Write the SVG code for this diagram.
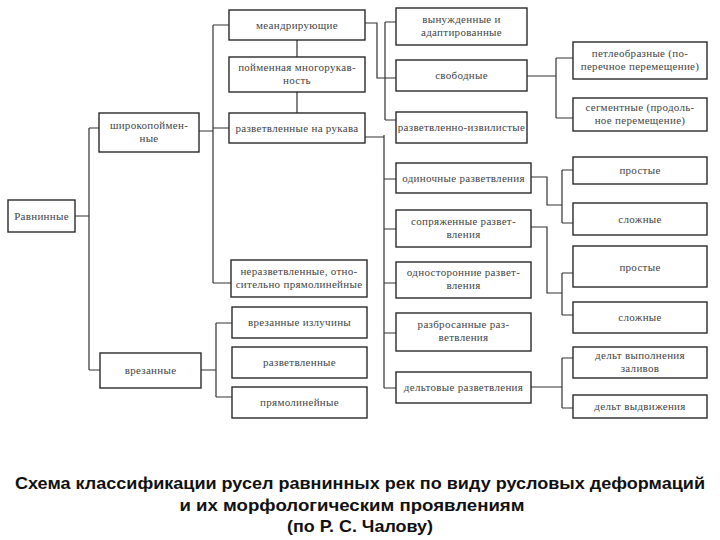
<svg xmlns="http://www.w3.org/2000/svg" width="720" height="540" viewBox="0 0 720 540">
<style>
.b{fill:#fff;stroke:#2a2a2a;stroke-width:1.4}
.t{font-family:'Liberation Serif','DejaVu Serif','Times New Roman',serif;font-size:11px;fill:#444;text-anchor:middle;letter-spacing:0.3px}
.c{fill:none;stroke:#333;stroke-width:1.2}
.h{font-family:'Liberation Sans',Arial,sans-serif;font-size:17px;font-weight:bold;fill:#111;text-anchor:middle}
</style>
<rect width="720" height="540" fill="#fff"/>
<g id="connectors" class="c">
<path d="M75,216H89M89,128V370M89,128H99M89,370H100"/>
<path d="M199,131H213M213,25V283M213,25H229M213,128H229M213,283H231"/>
<path d="M297,40V57M297,92V113"/>
<path d="M201,370H216M216,323V397M216,323H232M216,397H232"/>
<path d="M365,23H377V78H385M385,22V120M385,22H396M385,78H396M385,120H396"/>
<path d="M365,137H384M384,135V388M384,179H396M384,229H396M384,283H396M384,333H396M384,388H396"/>
<path d="M527,76H556M556,58V118M556,58H573M556,118H573"/>
<path d="M531,177H547V205H562M562,170V223M562,170H573M562,223H573"/>
<path d="M531,227H547V293H562M562,273V315M562,273H573M562,315H573"/>
<path d="M531,387H562M562,358V408M562,358H573M562,408H573"/>
</g>
<g font-family="'Liberation Serif','DejaVu Serif',serif">
<g id="n-ravninnye"><rect class="b" x="8" y="200" width="67" height="32"/><text class="t" x="41.5" y="220">Равнинные</text></g>
<g id="n-shirokopoim"><rect class="b" x="99" y="113" width="100" height="39"/><text class="t" x="149" y="129">широкопоймен-</text><text class="t" x="149" y="142">ные</text></g>
<g id="n-vrezannye"><rect class="b" x="100" y="353" width="101" height="35"/><text class="t" x="150.5" y="374">врезанные</text></g>
<g id="n-meandr"><rect class="b" x="229" y="10" width="136" height="30"/><text class="t" x="297" y="29">меандрирующие</text></g>
<g id="n-poimennaya"><rect class="b" x="229" y="57" width="136" height="35"/><text class="t" x="297" y="71">пойменная многорукав-</text><text class="t" x="297" y="84">ность</text></g>
<g id="n-razv-rukava"><rect class="b" x="229" y="113" width="136" height="30"/><text class="t" x="297" y="132">разветвленные на рукава</text></g>
<g id="n-nerazv"><rect class="b" x="231" y="260" width="136" height="37"/><text class="t" x="299" y="275">неразветвленные, отно-</text><text class="t" x="299" y="288">сительно прямолинейные</text></g>
<g id="n-vrez-izluchiny"><rect class="b" x="232" y="307" width="135" height="31"/><text class="t" x="299.5" y="326">врезанные излучины</text></g>
<g id="n-razvetvlennye"><rect class="b" x="232" y="347" width="135" height="31"/><text class="t" x="299.5" y="366">разветвленные</text></g>
<g id="n-pryamolin"><rect class="b" x="232" y="387" width="135" height="31"/><text class="t" x="299.5" y="406">прямолинейные</text></g>
<g id="n-vynuzhd"><rect class="b" x="396" y="8" width="131" height="37"/><text class="t" x="461.5" y="23">вынужденные и</text><text class="t" x="461.5" y="36">адаптированные</text></g>
<g id="n-svobodnye"><rect class="b" x="396" y="60" width="131" height="31"/><text class="t" x="461.5" y="79">свободные</text></g>
<g id="n-razv-izv"><rect class="b" x="396" y="112" width="131" height="31"/><text class="t" x="461.5" y="131">разветвленно-извилистые</text></g>
<g id="n-odinochnye"><rect class="b" x="396" y="163" width="135" height="30"/><text class="t" x="463.5" y="182">одиночные разветвления</text></g>
<g id="n-sopryazh"><rect class="b" x="396" y="210" width="135" height="37"/><text class="t" x="463.5" y="225">сопряженные развет-</text><text class="t" x="463.5" y="238">вления</text></g>
<g id="n-odnostor"><rect class="b" x="396" y="262" width="135" height="36"/><text class="t" x="463.5" y="276">односторонние развет-</text><text class="t" x="463.5" y="289">вления</text></g>
<g id="n-razbros"><rect class="b" x="396" y="313" width="135" height="38"/><text class="t" x="463.5" y="328">разбросанные раз-</text><text class="t" x="463.5" y="341">ветвления</text></g>
<g id="n-deltovye"><rect class="b" x="396" y="372" width="135" height="31"/><text class="t" x="463.5" y="391">дельтовые разветвления</text></g>
<g id="n-petleobr"><rect class="b" x="573" y="42" width="134" height="37"/><text class="t" x="640" y="57">петлеобразные (по-</text><text class="t" x="640" y="70">перечное перемещение)</text></g>
<g id="n-segment"><rect class="b" x="573" y="98" width="134" height="33"/><text class="t" x="640" y="111">сегментные (продоль-</text><text class="t" x="640" y="124">ное перемещение)</text></g>
<g id="n-prostye1"><rect class="b" x="573" y="157" width="134" height="27"/><text class="t" x="640" y="174">простые</text></g>
<g id="n-slozhnye1"><rect class="b" x="573" y="203" width="134" height="32"/><text class="t" x="640" y="223">сложные</text></g>
<g id="n-prostye2"><rect class="b" x="573" y="246" width="134" height="41"/><text class="t" x="640" y="271">простые</text></g>
<g id="n-slozhnye2"><rect class="b" x="573" y="302" width="134" height="31"/><text class="t" x="640" y="321">сложные</text></g>
<g id="n-delt-vypoln"><rect class="b" x="573" y="347" width="134" height="31"/><text class="t" x="640" y="359">дельт выполнения</text><text class="t" x="640" y="372">заливов</text></g>
<g id="n-delt-vydv"><rect class="b" x="573" y="395" width="134" height="23"/><text class="t" x="640" y="410">дельт выдвижения</text></g>
</g>
<g id="caption">
<text class="h" x="360" y="489" textLength="690" lengthAdjust="spacingAndGlyphs">Схема классификации русел равнинных рек по виду русловых деформаций</text>
<text class="h" x="352" y="511" textLength="345" lengthAdjust="spacingAndGlyphs">и их морфологическим проявлениям</text>
<text class="h" x="360" y="532" textLength="146" lengthAdjust="spacingAndGlyphs">(по Р. С. Чалову)</text>
</g>
</svg>
